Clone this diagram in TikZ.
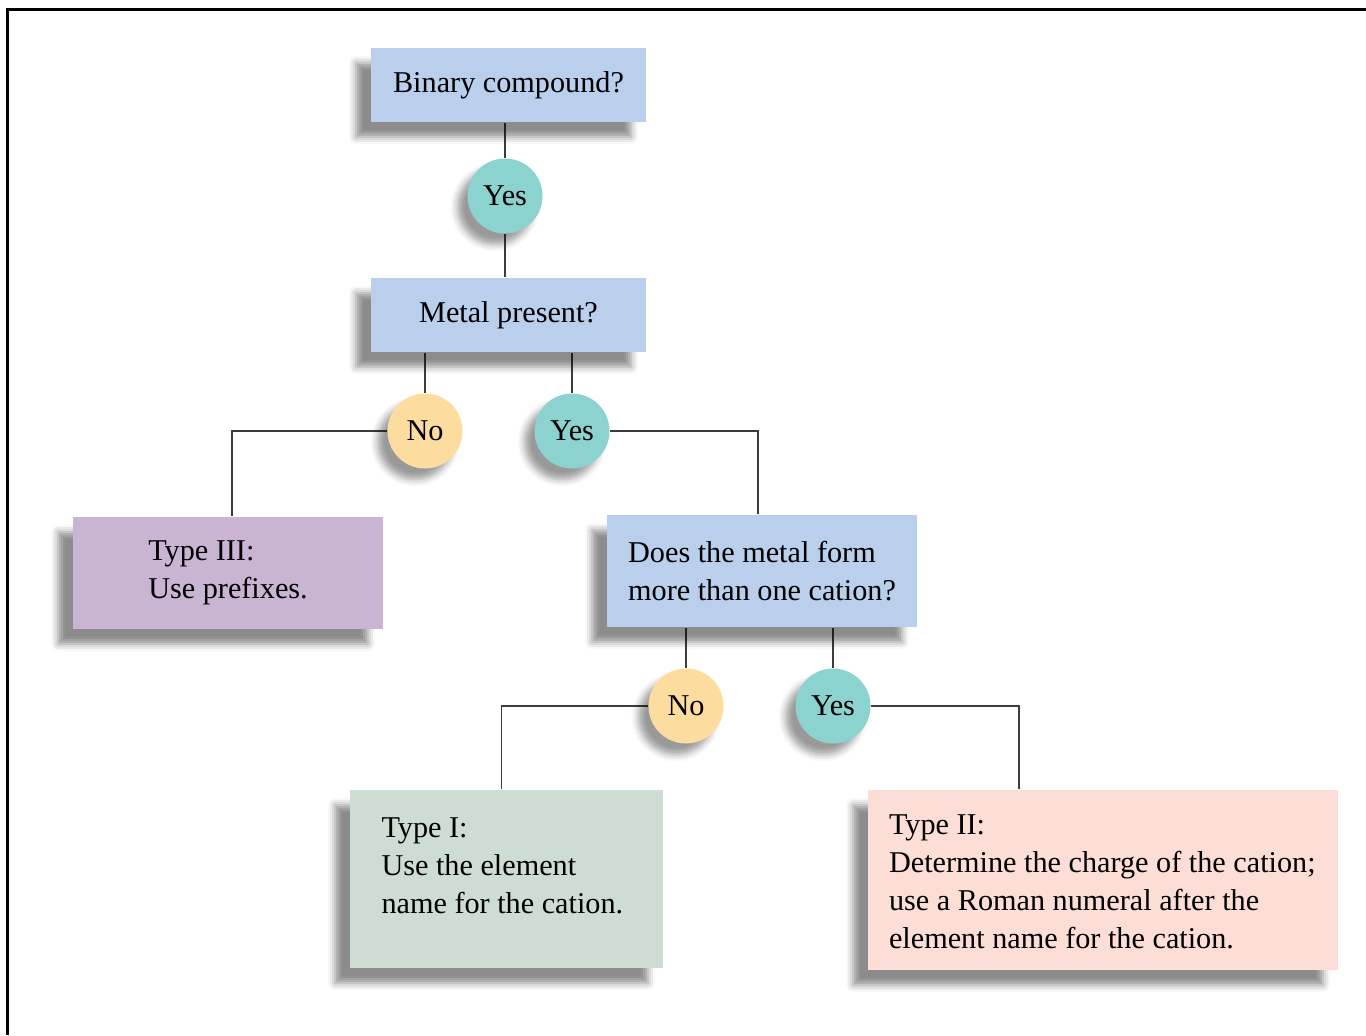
\documentclass[tikz,border=0pt]{standalone}
\usepackage{fontspec}
\setmainfont{Liberation Serif}
\usetikzlibrary{shadows.blur, backgrounds}

\definecolor{qblue}{RGB}{185,207,236}
\definecolor{yesteal}{RGB}{140,211,207}
\definecolor{noorange}{RGB}{253,220,160}
\definecolor{tpurple}{RGB}{201,180,212}
\definecolor{tgreen}{RGB}{205,221,211}
\definecolor{tpink}{RGB}{253,222,214}
\definecolor{wire}{RGB}{60,60,60}

\begin{document}
\begin{tikzpicture}[
    font=\fontsize{8.6}{10.8}\selectfont,
    boxshadow/.style={blur shadow={shadow xshift=-0.15cm, shadow yshift=-0.15cm, shadow blur radius=0.07cm, shadow opacity=45}},
    question/.style={rectangle, fill=qblue, boxshadow, minimum width=2.75cm, minimum height=0.74cm, inner sep=0pt},
    answerbox/.style={rectangle, boxshadow, align=left, inner sep=0pt},
    yesdot/.style={circle, fill=yesteal, minimum size=0.75cm, inner sep=0pt, blur shadow={shadow xshift=-0.1cm, shadow yshift=-0.11cm, shadow blur radius=0.07cm, shadow opacity=40}},
    nodot/.style={yesdot, fill=noorange},
    wired/.style={draw=wire, line width=0.5pt}
]
        \useasboundingbox (0,0) rectangle (13.66,10.35);
        \draw[line width=0.03cm] (0.07,0) -- (0.07,10.26) -- (13.66,10.26);

        \node[question] (binary) at (5.085,9.50) {Binary compound?};
        \node[yesdot] (yesA) at (5.05,8.39) {Yes};
        \node[question] (metal) at (5.085,7.20) {Metal present?};
        \node[nodot] (noA) at (4.25,6.04) {No};
        \node[yesdot] (yesB) at (5.72,6.04) {Yes};

        \node[answerbox, fill=tpurple, minimum width=3.10cm, minimum height=1.12cm] (typeIII) at (2.28,4.62) {Type III:\\Use prefixes.};
        \node[answerbox, fill=qblue, minimum width=3.10cm, minimum height=1.12cm] (cation) at (7.62,4.64) {Does the metal form\\more than one cation?};

        \node[nodot] (noB) at (6.86,3.29) {No};
        \node[yesdot] (yesC) at (8.33,3.29) {Yes};

        \node[answerbox, fill=tgreen, minimum width=3.13cm, minimum height=1.78cm] (typeI) at (5.065,1.56)
            {\parbox[c][1.23cm][t]{2.5cm}{Type I:\\Use the element\\name for the cation.}};
        \node[answerbox, fill=tpink, minimum width=4.70cm, minimum height=1.80cm] (typeII) at (11.03,1.55)
            {\parbox[c][1.31cm][t]{4.28cm}{Type II:\\Determine the charge of the cation;\\use a Roman numeral after the\\element name for the cation.}};

        \begin{scope}[on background layer]
            \draw[wired] (yesA) -- (yesA |- binary.south);
            \draw[wired] (yesA) -- (yesA |- metal.north);
            \draw[wired] (noA) -- (noA |- metal.south);
            \draw[wired] (yesB) -- (yesB |- metal.south);
            \draw[wired] (noA.west) -| ([xshift=0.04cm]typeIII.north);
            \draw[wired] (yesB.east) -| ([xshift=-0.04cm]cation.north);
            \draw[wired] (noB) -- (noB |- cation.south);
            \draw[wired] (yesC) -- (yesC |- cation.south);
            \draw[wired] (noB.west) -| ([xshift=-0.05cm]typeI.north);
            \draw[wired] (yesC.east) -| ([xshift=-0.84cm]typeII.north);
        \end{scope}
    \end{tikzpicture}
\end{document}
